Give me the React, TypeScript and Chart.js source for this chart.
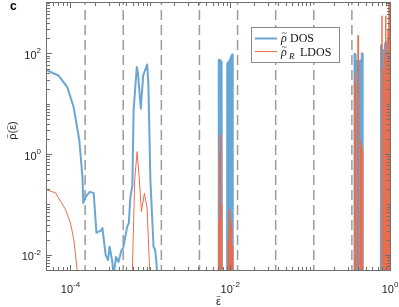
import React, { useEffect, useRef } from "react";
import { Chart, registerables } from "chart.js";

Chart.register(...registerables);

// ---- axis ranges & ticks ----
const X_MIN = 5.08e-5;
const X_MAX = 1;
const Y_MIN = 0.005;
const Y_MAX = 1000;
const xTickValues = [1e-4, 1e-2, 1];
const xTickExponents = ["-4", "-2", "0"];
const yTickValues = [1e-2, 1, 1e2];
const yTickExponents = ["-2", "0", "2"];

// ---- dashed reference energies (3^-k) ----
const dashedLineX = [0.3333, 0.1111, 0.03704, 0.01235, 0.004115, 0.001372, 0.0004572, 0.0001524];

// ---- DOS (blue) ----
const dosX = [
  5.08e-5, 7.08e-5, 9.12e-5, 1.096e-4, 1.288e-4, 1.413e-4, 1.445e-4, 1.549e-4, 1.738e-4, 1.95e-4,
  2.113e-4, 2.399e-4, 2.512e-4, 2.754e-4, 2.951e-4, 3.09e-4, 3.311e-4, 3.467e-4, 3.715e-4, 3.981e-4,
  4.365e-4, 4.571e-4, 5.129e-4, 5.37e-4, 5.623e-4, 5.957e-4, 6.166e-4, 6.761e-4, 6.998e-4, 7.586e-4,
  8.128e-4, 9.12e-4, 9.44e-4, 1.0e-3, 1.096e-3, 1.148e-3, 1.202e-3, 1.259e-3,
  0.00707, 0.00716, 0.0072, 0.00724, 0.00728, 0.00731, 0.00735, 0.00739, 0.00743, 0.00747, 0.00751, 0.00755,
  0.00759, 0.00763, 0.00767, 0.00771, 0.00775, 0.00779, 0.00783, 0.00787, 0.00792,
  0.0091, 0.00917, 0.00924, 0.0093, 0.00937, 0.00944, 0.00951, 0.00958, 0.00965, 0.00972, 0.00979, 0.00986,
  0.00993, 0.01, 0.01007, 0.01014, 0.01021, 0.01029, 0.01036, 0.01044, 0.01051, 0.01059, 0.01067, 0.01075, 0.01082,
  0.355, 0.3598, 0.365, 0.3704, 0.3758, 0.3813, 0.3868, 0.3925, 0.3982, 0.404, 0.4099, 0.4159, 0.422, 0.4281,
  0.4343, 0.4406, 0.4457, 0.4508, 0.455,
  0.765, 0.772, 0.783, 0.794, 0.806, 0.818, 0.829, 0.841, 0.853, 0.866, 0.878, 0.891, 0.904, 0.917, 0.93,
  0.944, 0.958, 0.972, 0.986, 1.0,
];
const dosY = [
  45.7, 36.3, 21.4, 8.51, 1.905, 0.347, 0.107, 0.141, 0.178, 0.17,
  0.0275, 0.0302, 0.0339, 0.01, 0.0079, 0.0145, 0.0079, 0.004, 0.0091, 0.0072,
  0.0126, 0.0138, 0.0363, 0.0427, 0.141, 0.24, 7.41, 53.7, 39.8, 7.94,
  36.3, 60.3, 25.1, 0.309, 0.0145, 0.0126, 0.0059, 0.001,
  1e-6, 75, 1e-6, 74, 1e-6, 73, 1e-6, 72, 1e-6, 72, 1e-6, 71,
  1e-6, 70, 1e-6, 69, 1e-6, 68, 1e-6, 67, 1e-6,
  1e-6, 64, 1e-6, 65, 1e-6, 66, 1e-6, 68, 1e-6, 70, 1e-6, 74,
  1e-6, 78, 1e-6, 83, 1e-6, 88, 1e-6, 92, 1e-6, 95, 1e-6, 94, 1e-6,
  1e-6, 98, 1e-6, 95, 1e-6, 72, 1e-6, 70, 1e-6, 69, 1e-6, 70, 1e-6, 72,
  1e-6, 100, 1e-6, 98, 1e-6,
  1e-6, 145, 1e-6, 145, 1e-6, 115, 1e-6, 115, 1e-6, 158, 1e-6, 158, 1e-6, 170, 1e-6,
  175, 1e-6, 180, 1e-6, 180,
];

// ---- LDOS (red) ----
const ldosX = [
  5.08e-5, 6.49e-5, 8.66e-5, 1.0e-4, 1.1e-4, 1.213e-4, 1.3e-4,
  5.623e-4, 5.957e-4, 6.368e-4, 6.823e-4, 7.286e-4, 7.718e-4, 8.414e-4, 9.099e-4, 9.795e-4, 1.023e-3,
  0.00712, 0.0072, 0.00726, 0.00735, 0.00741, 0.0075, 0.00756, 0.00765, 0.00772, 0.0078, 0.00786,
  0.0093, 0.00944, 0.00958, 0.00972, 0.00986, 0.01, 0.01014, 0.01029, 0.01044, 0.01059, 0.01075,
  0.355, 0.3598, 0.365, 0.3704, 0.3758, 0.392, 0.398, 0.404, 0.422, 0.4281, 0.4343, 0.4406, 0.4457, 0.4508, 0.455,
  0.765, 0.783, 0.794, 0.806, 0.818, 0.829, 0.841, 0.853, 0.866, 0.878, 0.891, 0.904, 0.917, 0.93, 0.944,
  0.958, 0.972, 0.986, 1.0,
];
const ldosY = [
  0.195, 0.17, 0.0794, 0.0427, 0.02, 0.005, 0.001,
  0.001, 0.005, 0.309, 1.12, 0.309, 0.0724, 0.166, 0.0851, 0.005, 0.001,
  1e-6, 0.05, 1e-6, 1.0, 1e-6, 2.4, 1e-6, 0.66, 1e-6, 0.1, 1e-6,
  1e-6, 0.02, 1e-6, 0.078, 1e-6, 0.05, 1e-6, 0.036, 1e-6, 0.015, 1e-6,
  1e-6, 40, 1e-6, 25, 1e-6, 1e-6, 229, 1e-6, 1e-6, 1.9, 1e-6, 1.5, 1e-6, 1.2, 1e-6,
  1e-6, 1e-6, 560, 1e-6, 20, 1e-6, 50, 1e-6, 100, 1e-6, 560, 1e-6, 80, 1e-6, 300,
  1e-6, 3000, 1e-6, 3000,
];

const BLUE = "rgb(106,166,211)";
const RED = "rgb(234,110,76)";
const AXIS = "#6f6f6f";
const SANS = "'Liberation Sans', Arial, sans-serif";
const SERIF = "'Liberation Serif', 'Times New Roman', serif";

// draws a character with a tilde accent above it, returns advance width
function tilded(ctx: CanvasRenderingContext2D, ch: string, x: number, y: number, font: string, tfont: string, shift: number, lift: number) {
  ctx.font = font;
  const w = ctx.measureText(ch).width;
  const prevAlign = ctx.textAlign;
  ctx.textAlign = "left";
  ctx.fillText(ch, x, y);
  ctx.font = tfont;
  ctx.textAlign = "center";
  ctx.fillText("~", x + w / 2 + shift, y - lift);
  ctx.textAlign = prevAlign;
  return w;
}

const decorPlugin = {
  id: "decor",
  afterDraw(chart: any) {
    const ctx: CanvasRenderingContext2D = chart.ctx;
    const { left, right, top, bottom } = chart.chartArea;
    const xs = chart.scales.x;
    const ys = chart.scales.y;
    ctx.save();

    // frame
    ctx.strokeStyle = AXIS;
    ctx.lineWidth = 1;
    ctx.strokeRect(left - 0.5, top - 0.5, right - left + 1, bottom - top + 1);

    // ticks (inward)
    ctx.beginPath();
    for (let k = -5; k <= 3; k++) {
      for (let m = 1; m <= 9; m++) {
        const v = m * Math.pow(10, k);
        if (v >= X_MIN * 0.999 && v <= X_MAX * 1.001) {
          const px = Math.round(xs.getPixelForValue(v)) + 0.5;
          const major = m === 1 && xTickValues.some((t) => Math.abs(Math.log10(t) - k) < 1e-9);
          const len = major ? 5 : 3;
          ctx.moveTo(px, bottom);
          ctx.lineTo(px, bottom - len);
          ctx.moveTo(px, top);
          ctx.lineTo(px, top + len);
        }
        if (v >= Y_MIN * 0.999 && v <= Y_MAX * 1.001) {
          const py = Math.round(ys.getPixelForValue(v)) + 0.5;
          const major = m === 1 && yTickValues.some((t) => Math.abs(Math.log10(t) - k) < 1e-9);
          const len = major ? 5 : 3;
          ctx.moveTo(left, py);
          ctx.lineTo(left + len, py);
          ctx.moveTo(right, py);
          ctx.lineTo(right - len, py);
        }
      }
    }
    ctx.stroke();

    // tick labels
    ctx.fillStyle = "#262626";
    ctx.textBaseline = "alphabetic";
    ctx.textAlign = "left";
    const base = `11px ${SANS}`;
    const sup = `8px ${SANS}`;
    xTickValues.forEach((v, i) => {
      const px = xs.getPixelForValue(v);
      ctx.font = base;
      const w1 = ctx.measureText("10").width;
      ctx.font = sup;
      const w2 = ctx.measureText(xTickExponents[i]).width;
      const x0 = px - (w1 + w2) / 2;
      ctx.font = base;
      ctx.fillText("10", x0, 293);
      ctx.font = sup;
      ctx.fillText(xTickExponents[i], x0 + w1, 287);
    });
    yTickValues.forEach((v, i) => {
      const py = ys.getPixelForValue(v);
      ctx.font = base;
      const w1 = ctx.measureText("10").width;
      ctx.font = sup;
      const w2 = ctx.measureText(yTickExponents[i]).width;
      const x0 = 41 - (w1 + w2);
      ctx.font = base;
      ctx.fillText("10", x0, py + 5.5);
      ctx.font = sup;
      ctx.fillText(yTickExponents[i], x0 + w1, py);
    });

    // axis titles
    const tf = `11px ${SANS}`;
    const tt = `8px ${SANS}`;
    ctx.font = tf;
    const ew = ctx.measureText("\u03B5").width;
    tilded(ctx, "\u03B5", (left + right) / 2 - ew / 2, 305, tf, tt, 0, 6);

    ctx.save();
    ctx.translate(16, (top + bottom) / 2 - 6);
    ctx.rotate(-Math.PI / 2);
    ctx.font = tf;
    const parts = ["\u03C1", "(", "\u03B5", ")"];
    const tw = parts.reduce((a, p) => a + ctx.measureText(p).width, 0);
    let cx = -tw / 2;
    cx += tilded(ctx, "\u03C1", cx, 0, tf, tt, 0.5, 6);
    ctx.font = tf;
    ctx.fillText("(", cx, 0);
    cx += ctx.measureText("(").width;
    cx += tilded(ctx, "\u03B5", cx, 0, tf, tt, 0, 6);
    ctx.font = tf;
    ctx.fillText(")", cx, 0);
    ctx.restore();

    // panel letter
    ctx.font = `bold 12px ${SANS}`;
    ctx.textAlign = "left";
    ctx.fillStyle = "#000";
    ctx.fillText("c", 10, 10);

    // legend
    const lx = 251.5, ly = 27.5, lw = 88, lh = 35;
    ctx.fillStyle = "#fff";
    ctx.fillRect(lx, ly, lw, lh);
    ctx.strokeStyle = "#8a8a8a";
    ctx.lineWidth = 1;
    ctx.strokeRect(lx, ly, lw, lh);
    ctx.strokeStyle = BLUE;
    ctx.lineWidth = 2;
    ctx.beginPath();
    ctx.moveTo(255, 38.5);
    ctx.lineTo(277, 38.5);
    ctx.stroke();
    ctx.strokeStyle = RED;
    ctx.lineWidth = 1;
    ctx.beginPath();
    ctx.moveTo(255, 51.5);
    ctx.lineTo(277, 51.5);
    ctx.stroke();
    ctx.fillStyle = "#111";
    ctx.textAlign = "left";
    const lf = `italic 12px ${SERIF}`;
    const lt = `9px ${SERIF}`;
    tilded(ctx, "\u03C1", 281, 42, lf, lt, 0.5, 6);
    ctx.font = `12px ${SERIF}`;
    ctx.fillText("DOS", 290, 42);
    tilded(ctx, "\u03C1", 281, 56, lf, lt, 0.5, 6);
    ctx.font = `italic 9px ${SERIF}`;
    ctx.fillText("R", 289, 58.5);
    ctx.font = `12px ${SERIF}`;
    ctx.fillText("LDOS", 300, 56);

    ctx.restore();
  },
};

export default function App() {
  const ref = useRef<HTMLCanvasElement | null>(null);
  useEffect(() => {
    document.body.style.margin = "0";
    const canvas = ref.current;
    if (!canvas) return;
    const dashed = dashedLineX.map((x) => ({
      type: "line",
      data: [
        { x, y: Y_MAX },
        { x, y: Y_MIN },
      ],
      borderColor: "#9c9c9c",
      borderWidth: 1.5,
      borderDash: [10, 5],
      borderDashOffset: 8,
      pointRadius: 0,
      order: 3,
      clip: 0,
    }));
    const chart = new Chart(canvas, {
      type: "line",
      data: {
        datasets: [
          ...dashed,
          {
            label: "DOS",
            data: dosX.map((x, i) => ({ x, y: dosY[i] })),
            borderColor: BLUE,
            borderWidth: 2,
            borderJoinStyle: "round",
            pointRadius: 0,
            tension: 0,
            order: 2,
            clip: 0,
          },
          {
            label: "LDOS",
            data: ldosX.map((x, i) => ({ x, y: ldosY[i] })),
            borderColor: RED,
            borderWidth: 1,
            borderJoinStyle: "round",
            pointRadius: 0,
            tension: 0,
            order: 1,
            clip: 0,
          },
        ] as any,
      },
      options: {
        animation: false,
        responsive: false,
        maintainAspectRatio: false,
        layout: { padding: { top: 3, right: 9, left: 0, bottom: 0 } },
        plugins: { legend: { display: false }, tooltip: { enabled: false } },
        scales: {
          x: {
            type: "logarithmic",
            min: X_MIN,
            max: X_MAX,
            grid: { display: false },
            border: { display: false },
            ticks: { display: false },
            afterFit: (s: any) => {
              s.height = 37;
            },
          },
          y: {
            type: "logarithmic",
            min: Y_MIN,
            max: Y_MAX,
            grid: { display: false },
            border: { display: false },
            ticks: { display: false },
            afterFit: (s: any) => {
              s.width = 47;
            },
          },
        },
      } as any,
      plugins: [decorPlugin],
    });
    return () => chart.destroy();
  }, []);
  return (
    <div style={{ position: "absolute", left: 0, top: 0, width: 399, height: 307, background: "#fff" }}>
      <canvas ref={ref} width={399} height={307} style={{ width: 399, height: 307, display: "block" }} />
    </div>
  );
}
